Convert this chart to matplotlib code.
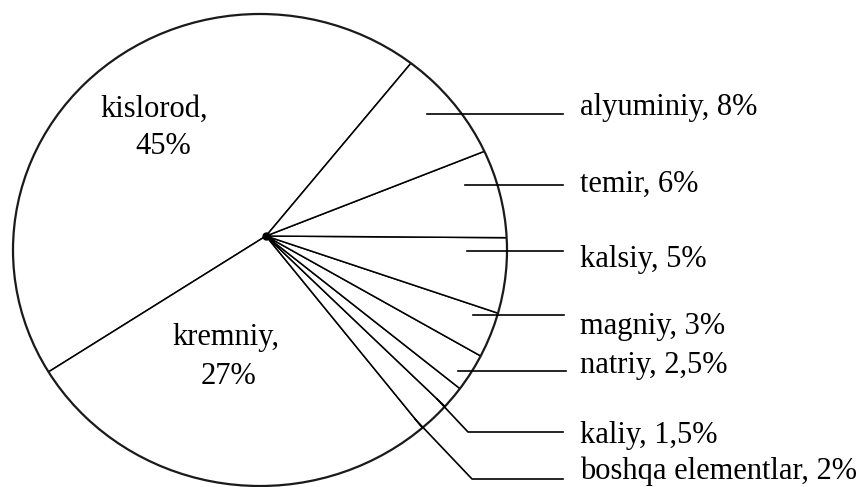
import matplotlib.pyplot as plt
from matplotlib.patches import Ellipse

plt.rcParams['font.family'] = ['Liberation Serif', 'DejaVu Serif']

# element shares of the Earth's crust, counter-clockwise from the top spoke
elements = ['kislorod', 'kremniy', 'boshqa elementlar', 'kaliy', 'natriy',
            'magniy', 'kalsiy', 'temir', 'alyuminiy']
shares = [45, 27, 2, 1.5, 2.5, 3, 5, 6, 8]

inside = ['kislorod', 'kremniy']


def pct(v):
    return f'{v:g}'.replace('.', ',') + '%'


W, H = 859, 487
fig = plt.figure(figsize=(W / 100, H / 100), dpi=100)
ax = fig.add_axes([0, 0, 1, 1])

# work in pixel units, y pointing down
hub = (266, 236)
rim = Ellipse((260, 250), 494, 472, facecolor='none', edgecolor='#1a1a1a',
              lw=1.6, zorder=3)

wedges, _ = ax.pie(shares, center=hub, radius=320, startangle=-50,
                   counterclock=False,
                   wedgeprops=dict(facecolor='white', edgecolor='black',
                                   linewidth=1.1))
ax.set_xlim(0, W)
ax.set_ylim(H, 0)
ax.set_aspect('auto')
ax.axis('off')

ax.add_patch(rim)
for w in wedges:
    w.set_clip_on(True)
    w.set_clip_path(rim)
ax.plot(*hub, 'o', color='black', ms=5, zorder=4)

fs = 22

# labels inside the two big slices: (name x, name baseline, pct x, pct baseline)
inner_pos = {
    'kislorod': (154, 117, 163, 154),
    'kremniy': (226, 345, 228, 384),
}
for name in inside:
    v = shares[elements.index(name)]
    nx, ny, px, py = inner_pos[name]
    ax.text(nx, ny, name + ',', fontsize=fs, ha='center', va='baseline')
    ax.text(px, py, pct(v), fontsize=fs, ha='center', va='baseline')

# leader lines and baselines for the small slices
callouts = {
    'alyuminiy': ([(427, 114), (563, 114)], 115),
    'temir': ([(465, 185), (563, 185)], 192),
    'kalsiy': ([(467, 251), (563, 251)], 267),
    'magniy': ([(473, 315), (564, 315)], 334),
    'natriy': ([(458, 371), (566, 371)], 373),
    'kaliy': ([(437, 399), (468, 432), (563, 432)], 443),
    'boshqa elementlar': ([(415, 419), (472, 479), (563, 479)], 479),
}
for name, (path, base) in callouts.items():
    v = shares[elements.index(name)]
    xs, ys = zip(*path)
    ax.plot(xs, ys, color='black', lw=1.2, zorder=5)
    ax.text(580, base, f'{name}, {pct(v)}', fontsize=fs, ha='left',
            va='baseline')

fig.savefig('out.png', dpi=100)
